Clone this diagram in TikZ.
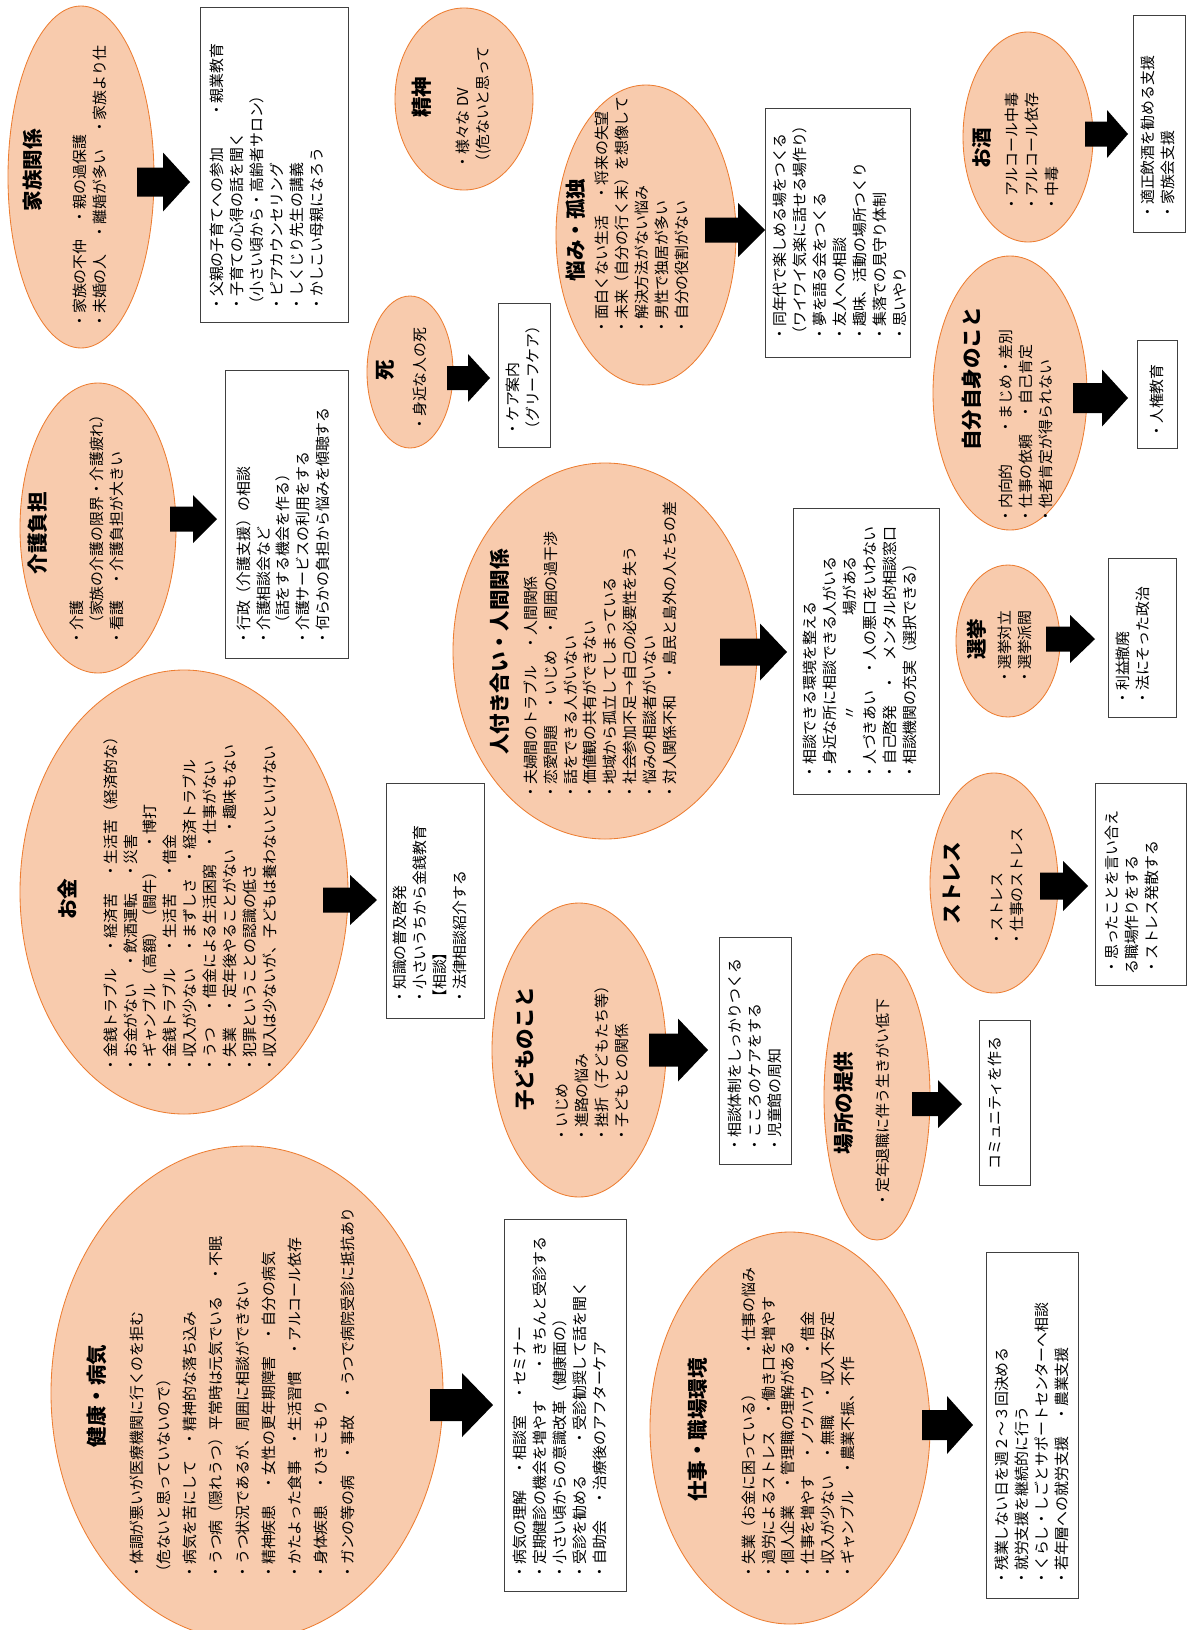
\documentclass[tikz,border=0pt]{standalone}
\usepackage{fontspec}
\setmainfont{Noto Sans CJK JP}
\usetikzlibrary{shapes.geometric}
\definecolor{colPeach}{HTML}{F8CBAD}
\definecolor{colRim}{HTML}{ED7D31}
\definecolor{colFrame}{HTML}{404040}
\def\bodyfont{\fontsize{10.6pt}{14.2pt}\selectfont}
\def\loosefont{\fontsize{10.6pt}{18.7pt}\selectfont}
\def\ttlfont{\fontsize{14.6pt}{17pt}\selectfont\bfseries}
\tikzset{
  blob/.style={ellipse, draw=colRim, fill=colPeach, line width=0.6pt, inner sep=0pt},
  panel/.style={rectangle, draw=colFrame, fill=white, line width=0.6pt, inner sep=0pt, anchor=north west},
  says/.style={rotate=90, anchor=north west, align=left, inner sep=0pt, font=\bodyfont},
  ttl/.style={rotate=90, inner sep=0pt, font=\ttlfont},
}
% ellipse: name, cx, cy, rx, ry (pixels)
\newcommand{\blob}[5]{%
  \pgfmathsetmacro{\blbw}{2*#4*0.025}%
  \pgfmathsetmacro{\blbh}{2*#5*0.025}%
  \node[blob, minimum width=\blbw cm, minimum height=\blbh cm] (#1) at (#2,#3) {};}
% box: name, x1, y1, x2, y2 (pixels)
\newcommand{\panel}[5]{%
  \pgfmathsetmacro{\pnlw}{(#4-#2)*0.025}%
  \pgfmathsetmacro{\pnlh}{(#5-#3)*0.025}%
  \node[panel, minimum width=\pnlw cm, minimum height=\pnlh cm] (#1) at (#2,#3) {};}
% block arrow: tail x, head x, tip x, centre y, shaft half, head half
\newcommand{\bigarrow}[6]{%
  \fill[black] ({#1},{#4-#5}) -- ({#2},{#4-#5}) -- ({#2},{#4-#6}) -- ({#3},{#4})
    -- ({#2},{#4+#6}) -- ({#2},{#4+#5}) -- ({#1},{#4+#5}) -- cycle;}

\begin{document}
\begin{tikzpicture}[x=0.025cm, y=-0.025cm]
\useasboundingbox (0,0) rectangle (1188,1630);

% ===================== 家族関係 =====================
\blob{kazoku}{81}{177}{73}{171}
\node[ttl] (kazokuT) at (33,170) {家族関係};
\node[says] (kazokuL) at (73,329)
  {・家族の不仲　・親の過保護\\・未婚の人　・離婚が多い　・家族より仕};
\bigarrow{137}{163}{190}{182}{14.5}{29.5}
\panel{kazokuB}{200}{7}{348}{322}
\node[says] (kazokuS) at (210,312)
  {・父親の子育てへの参加　　・親業教育\\・子育ての心得の話を聞く\\（小さい頃から・高齢者サロン）\\・ピアカウンセリング\\・しくじり先生の講義\\・かしこい母親になろう};

% ===================== 精神 / 死 =====================
\blob{seishin}{464}{99}{69}{91}
\node[ttl] (seishinT) at (422,97) {精神};
\node[says] (seishinL) at (456,170) {・様々な DV\\（(危ないと思って};

\blob{shi}{410}{372}{43}{76}
\node[ttl] (shiT) at (385,370) {死};
\node[says] (shiL) at (413,432) {・身近な人の死};
\bigarrow{447}{468}{490}{378}{12}{24}
\panel{shiB}{498}{303}{550}{447}
\node[says] (shiS) at (506,437) {・ケア案内\\（グリーフケア）};

% ===================== 悩み・孤独 =====================
\blob{nayami}{646}{235}{90}{150}
\node[ttl] (nayamiT) at (576,230) {悩み・孤独};
\node[says] (nayamiL) at (595,335)
  {・面白くない生活　・将来の失望\\・未来（自分の行く末）を想像して\\・解決方法がない悩み\\・男性で独居が多い\\・自分の役割がない};
\bigarrow{705}{738}{765}{230}{12.5}{27}
\panel{nayamiB}{765}{108}{910}{357}
\node[says] (nayamiS) at (773,342)
  {・同年代で楽しめる場をつくる\\（ワイワイ気楽に話せる場作り）\\・夢を語る会をつくる\\・友人への相談\\・趣味、活動の場所つくり\\・集落での見守り体制\\・思いやり};

% ===================== お酒 =====================
\blob{osake}{1028}{137}{65}{105}
\node[ttl] (osakeT) at (982,148) {お酒};
\node[says] (osakeL) at (1005,212) {・アルコール中毒\\・アルコール依存\\・中毒};
\bigarrow{1085}{1107}{1128}{134}{12.5}{24}
\panel{osakeB}{1133}{15}{1185}{232}
\node[says] (osakeS) at (1141,220) {・適正飲酒を勧める支援\\・家族会支援};

% ===================== 自分自身のこと =====================
\blob{jibun}{1010}{393}{77}{137}
\node[ttl] (jibunT) at (972,379) {自分自身のこと};
\node[says] (jibunL) at (999,524)
  {・内向的　　・まじめ・差別\\・仕事の依頼　・自己肯定\\・他者肯定が得られない};
\bigarrow{1073}{1102}{1128}{398}{15}{28.5}
\panel{jibunB}{1137}{340}{1177}{448}
\node[says] (jibunS) at (1150,439) {・人権教育};

% ===================== 介護負担 =====================
\blob{kaigo}{98}{528}{78}{145}
\node[ttl] (kaigoT) at (38,533) {介護負担};
\node[says] (kaigoL) at (70,646)
  {・介護\\　（家族の介護の限界・介護疲れ）\\・看護　・介護負担が大きい};
\bigarrow{170}{193}{217}{519}{12.5}{24}
\panel{kaigoB}{225}{370}{348}{658}
\node[says] (kaigoS) at (236,646)
  {・行政（介護支援）の相談\\・介護相談会など\\　（話をする機会を作る）\\・介護サービスの利用をする\\・何らかの負担から悩みを傾聴する};

% ===================== 人付き合い・人間関係 =====================
\blob{hito}{605}{651}{152}{188}
\node[ttl] (hitoT) at (500,652) {人付き合い・人間関係};
\node[says] (hitoL) at (523,800)
  {・夫婦間のトラブル　・人間関係\\・恋愛問題　・いじめ　・周囲の過干渉\\・話をできる人がいない\\・価値観の共有ができない\\・地域から孤立してしまっている\\・社会参加不足→自己の必要性を失う\\・悩みの相談者がいない\\・対人関係不和　・島民と島外の人たちの差};
\bigarrow{720}{760}{787}{652}{13.5}{28.5}
\panel{hitoB}{793}{508}{939}{794}
\node[says] (hitoS) at (803,780)
  {・相談できる環境を整える\\・身近な所に相談できる人がいる\\・　　　〃　　　　　　場がある\\・人づきあい　・人の悪口をいわない\\・自己啓発　・　メンタル的相談窓口\\・相談機関の充実（選択できる）};

% ===================== 選挙 / ストレス =====================
\blob{senkyo}{1008}{641}{52}{76}
\node[ttl] (senkyoT) at (977,639) {選挙};
\node[says] (senkyoL) at (998,685) {・選挙対立\\・選挙派閥};
\bigarrow{1046}{1070}{1095}{639}{12.5}{24}
\panel{senkyoB}{1108}{558}{1176}{717}
\node[says] (senkyoS) at (1116,706) {・利益撤廃\\・法にそった政治};

\blob{stress}{994}{883}{64}{110}
\node[ttl] (stressT) at (952,883) {ストレス};
\node[says] (stressL) at (991,947) {・ストレス\\・仕事のストレス};
\bigarrow{1040}{1063}{1088}{886}{13.5}{25}
\panel{stressB}{1095}{783}{1186}{985}
\node[says] (stressS) at (1105,975) {・思ったことを言い合え\\る職場作りをする\\・ストレス発散する};

% ===================== お金 =====================
\blob{okane}{184}{892}{164}{222}
\node[ttl] (okaneT) at (67,899) {お金};
\node[says] (okaneL) at (103,1073)
  {・金銭トラブル　・経済苦　・生活苦（経済的な）\\・お金がない　・飲酒運転　・災害\\・ギャンブル（高額）（闘牛）　・博打\\・金銭トラブル　・生活苦　・借金\\・収入が少ない　・まずしさ　・経済トラブル\\・うつ　・借金による生活困窮　・仕事がない\\・失業　・定年後やることがない　・趣味もない\\・犯罪ということの認識の低さ\\・収入は少ないが、子どもは養わないといけない};
\bigarrow{323}{350}{377}{900}{12.5}{25}
\panel{okaneB}{386}{783}{484}{1018}
\node[says] (okaneS) at (393,1005)
  {・知識の普及啓発\\・小さいうちから金銭教育\\【相談】\\・法律相談紹介する};

% ===================== 子どものこと / 場所の提供 =====================
\blob{kodomo}{579}{1050}{87}{147}
\node[ttl] (kodomoT) at (525,1049) {子どものこと};
\node[says] (kodomoL) at (556,1143)
  {・いじめ\\・進路の悩み\\・挫折（子どもたち等）\\・子どもとの関係};
\bigarrow{649}{678}{708}{1050}{16.5}{31.5}
\panel{kodomoB}{719}{937}{791}{1164}
\node[says] (kodomoS) at (728,1153)
  {・相談体制をしっかりつくる\\・こころのケアをする\\・児童館の周知};

\blob{basho}{877}{1097}{53}{143}
\node[ttl] (bashoT) at (844,1103) {場所の提供};
\node[says] (bashoL) at (876,1208) {・定年退職に伴う生きがい低下};
\bigarrow{912}{938}{962}{1104}{12}{24}
\panel{bashoB}{979}{1020}{1030}{1185}
\node[says] (bashoS) at (988,1170) {コミュニティを作る};

% ===================== 健康・病気 =====================
\blob{kenko}{247}{1393}{196}{247}
\node[ttl] (kenkoT) at (97,1396) {健康・病気};
\node[says, font=\loosefont] (kenkoL) at (130,1580)
  {・体調が悪いが医療機関に行くのを拒む\\（危ないと思っていないので）\\・病気を苦にして　・精神的な落ち込み\\・うつ病（隠れうつ）平常時は元気でいる　・不眠\\・うつ状況であるが、周囲に相談ができない\\・精神疾患　・女性の更年期障害　・自分の病気\\・かたよった食事　・生活習慣　・アルコール依存\\・身体疾患　・ひきこもり\\・ガンの等の病　・事故　・うつで病院受診に抵抗あり};
\bigarrow{430}{462}{493}{1405}{16}{32}
\panel{kenkoB}{504}{1219}{626}{1591}
\node[says] (kenkoS) at (513,1580)
  {・病気の理解　・相談室　・セミナー\\・定期健診の機会を増やす　　・きちんと受診する\\・小さい頃からの意識改革（健康面の）\\・受診を勧める　　・受診勧奨して話を聞く\\・自助会　・治療後のアフターケア};

% ===================== 仕事・職場環境 =====================
\blob{shigoto}{790}{1428}{140}{196}
\node[ttl] (shigotoT) at (698,1430) {仕事・職場環境};
\node[says] (shigotoL) at (741,1580)
  {・失業（お金に困っている）　　・仕事の悩み\\・過労によるストレス　・働き口を増やす\\・個人企業　・管理職の理解がある\\・仕事を増やす　・ノウハウ　　・借金\\・収入が少ない　・無職　・収入不安定\\・ギャンブル　・農業不振、不作};
\bigarrow{922}{947}{973}{1425}{15}{29}
\panel{shigotoB}{986}{1252}{1078}{1598}
\node[says] (shigotoS) at (995,1586)
  {・残業しない日を週２～３回決める\\・就労支援を継続的に行う\\・くらし・しごとサポートセンターへ相談\\・若年層への就労支援　・農業支援};
\end{tikzpicture}
\end{document}
